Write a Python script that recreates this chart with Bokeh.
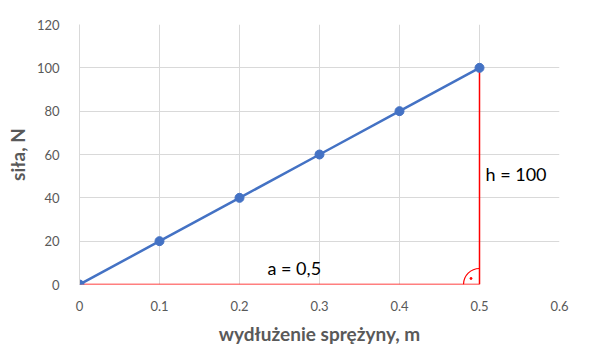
from bokeh.plotting import figure
from bokeh.embed import file_html
from bokeh.resources import INLINE
from bokeh.models import Range1d, FixedTicker, Label

x_vals = [0, 0.1, 0.2, 0.3, 0.4, 0.5]
y_vals = [0, 20, 40, 60, 80, 100]
x_ticks = [0, 0.1, 0.2, 0.3, 0.4, 0.5, 0.6]
y_ticks = [0, 20, 40, 60, 80, 100, 120]
x_tick_labels = ["0", "0.1", "0.2", "0.3", "0.4", "0.5", "0.6"]
base_x = [0, 0.5]
base_y = [0, 0]
height_x = [0.5, 0.5]
height_y = [0, 100]
label_a = "a = 0,5"
label_h = "h = 100"

FONT = "Lato"
GRAY = "#595959"

p = figure(width=597, height=355, output_backend="svg", toolbar_location=None,
           x_range=Range1d(0, 0.6), y_range=Range1d(0, 120),
           min_border_left=79, min_border_right=38, min_border_top=24, min_border_bottom=71)
p.outline_line_color = None
p.background_fill_color = "white"
p.border_fill_color = "white"

for ax, ticks in ((p.xaxis[0], x_ticks), (p.yaxis[0], y_ticks)):
    ax.ticker = FixedTicker(ticks=ticks)
    ax.major_tick_line_color = None
    ax.minor_tick_line_color = None
    ax.major_label_text_font = FONT
    ax.major_label_text_font_size = "13px"
    ax.major_label_text_color = GRAY
    ax.axis_label_text_font = FONT
    ax.axis_label_text_font_size = "19px"
    ax.axis_label_text_font_style = "bold"
    ax.axis_label_text_color = GRAY

p.xaxis.axis_line_color = None
p.yaxis.axis_line_color = "#d9d9d9"
p.xaxis.major_label_overrides = {t: l for t, l in zip(x_ticks, x_tick_labels)}
p.xaxis.axis_label = "wydłużenie sprężyny, m"
p.yaxis.axis_label = "siła, N"
p.xaxis.major_label_standoff = 10
p.yaxis.major_label_standoff = 14
p.xaxis.axis_label_standoff = 8
p.yaxis.axis_label_standoff = 5

p.xgrid.ticker = FixedTicker(ticks=x_ticks)
p.ygrid.ticker = FixedTicker(ticks=y_ticks)
p.xgrid.grid_line_color = "#d9d9d9"
p.ygrid.grid_line_color = "#d9d9d9"

# red triangle sides
p.line(base_x, base_y, line_color="red", line_width=1.5)
p.line(height_x, height_y, line_color="red", line_width=1.5)
# right angle mark
p.arc(x=[base_x[1]], y=[base_y[1]], radius=16, radius_units="screen",
      start_angle=1.5708, end_angle=3.1416, line_color="red", line_width=1.2)
p.scatter([base_x[1] - 0.0106], [2.8], size=2, color="red")

# series
p.line(x_vals, y_vals, line_color="#4472C4", line_width=2.5)
p.scatter(x_vals, y_vals, size=9, fill_color="#4472C4", line_color="#4472C4")

p.add_layout(Label(x=0.235, y=7.4, text=label_a, text_font=FONT, text_font_size="18px",
                   text_color="black", text_baseline="middle"))
p.add_layout(Label(x=0.5075, y=51.2, text=label_h, text_font=FONT, text_font_size="18px",
                   text_color="black", text_baseline="middle"))

open("out.html", "w").write(file_html(p, INLINE))
